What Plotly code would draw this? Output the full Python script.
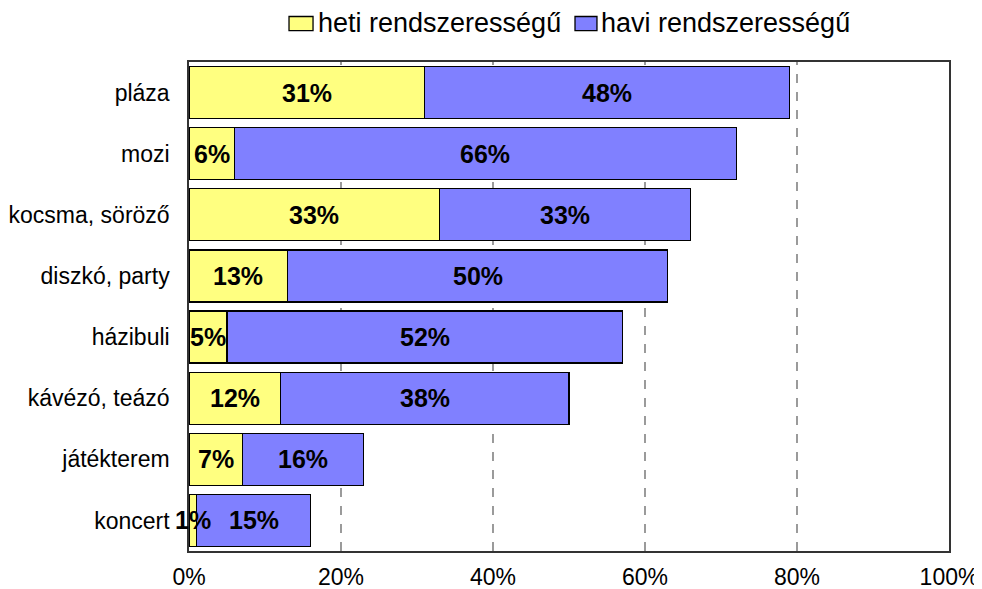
import plotly.graph_objects as go

categories = ["pláza", "mozi", "kocsma, söröző", "diszkó, party", "házibuli",
              "kávézó, teázó", "játékterem", "koncert"]
heti = [31, 6, 33, 13, 5, 12, 7, 1]
havi = [48, 66, 33, 50, 52, 38, 16, 15]
series_names = ["heti rendszerességű", "havi rendszerességű"]
series_colors = ["#FFFF80", "#8080FF"]
x_ticks = [0, 20, 40, 60, 80, 100]
x_tick_labels = ["0%", "20%", "40%", "60%", "80%", "100%"]

FONT = "Liberation Sans, Arial, sans-serif"

fig = go.Figure()
for vals, name, col in zip([heti, havi], series_names, series_colors):
    fig.add_trace(go.Bar(y=categories, x=vals, orientation="h", name=name,
                         showlegend=False,
                         marker=dict(color=col, line=dict(color="black", width=1.3))))

annotations = []
for c, a, b in zip(categories, heti, havi):
    annotations.append(dict(x=a / 2, y=c, text=f"<b>{a}%</b>", showarrow=False,
                            font=dict(size=25, color="black", family=FONT)))
    annotations.append(dict(x=a + b / 2, y=c, text=f"<b>{b}%</b>", showarrow=False,
                            font=dict(size=25, color="black", family=FONT)))

shapes = []
for v in x_ticks[1:-1]:
    shapes.append(dict(type="line", xref="x", yref="paper", x0=v, x1=v, y0=0, y1=1,
                       line=dict(color="#666666", width=1.3, dash="dash"), layer="below"))

# custom legend (rectangular swatches like the original)
legend_boxes = [(0.1316, 0.1632), (0.5079, 0.5368)]
legend_text_x = [0.1671, 0.5395]
for (bx0, bx1), tx, name, col in zip(legend_boxes, legend_text_x, series_names, series_colors):
    shapes.append(dict(type="rect", xref="paper", yref="paper", x0=bx0, x1=bx1,
                       y0=1.064, y1=1.093, fillcolor=col,
                       line=dict(color="black", width=1.3)))
    annotations.append(dict(xref="paper", yref="paper", x=tx, y=1.080,
                            xanchor="left", yanchor="middle", text=name, showarrow=False,
                            font=dict(size=27, color="black", family=FONT)))

fig.update_layout(
    barmode="stack",
    bargap=0.15,
    width=982, height=589,
    margin=dict(l=181, r=41, t=54, b=46, autoexpand=False),
    paper_bgcolor="white", plot_bgcolor="white",
    font=dict(family=FONT, color="black"),
    showlegend=False,
    annotations=annotations,
    shapes=shapes,
    xaxis=dict(range=[0, 100], tickvals=x_ticks, ticktext=x_tick_labels,
               showgrid=False, zeroline=False, showline=True, mirror=True,
               linecolor="#333333", linewidth=1.5, tickfont=dict(size=23),
               ticks="", ticklabelstandoff=5, automargin=False, fixedrange=True),
    yaxis=dict(autorange="reversed", showgrid=False, showline=True, mirror=True,
               linecolor="#333333", linewidth=1.5, tickfont=dict(size=23),
               ticks="", ticklabelstandoff=13, automargin=False),
)

fig.write_html("out.html")
